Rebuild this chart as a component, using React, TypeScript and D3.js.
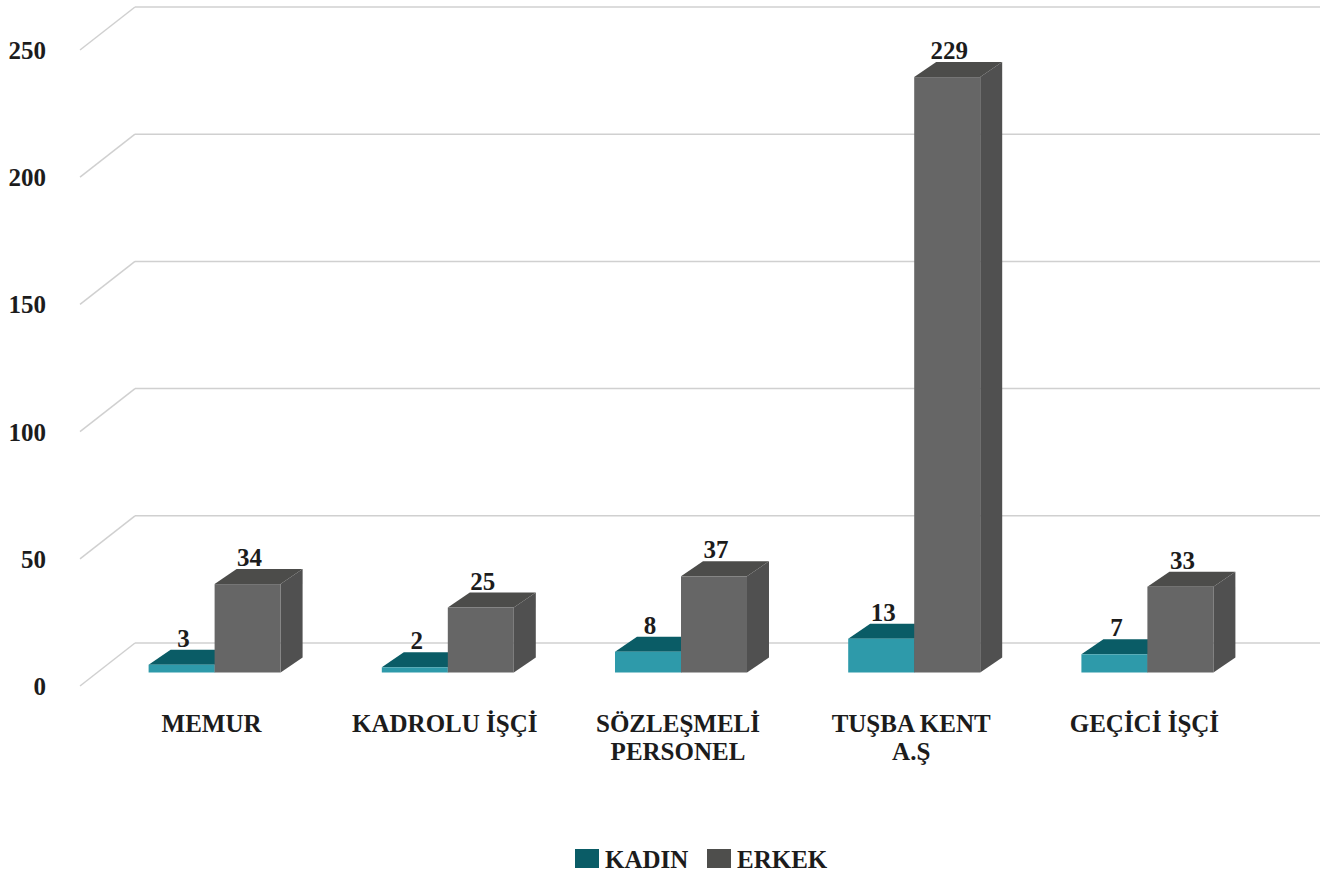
import * as d3 from 'd3';

const categories = ['MEMUR', 'KADROLU İŞÇİ', 'SÖZLEŞMELİ PERSONEL', 'TUŞBA KENT A.Ş', 'GEÇİCİ İŞÇİ'];
const categoryLines = [['MEMUR'], ['KADROLU İŞÇİ'], ['SÖZLEŞMELİ', 'PERSONEL'], ['TUŞBA KENT', 'A.Ş'], ['GEÇİCİ İŞÇİ']];
const seriesNames = ['KADIN', 'ERKEK'];
const kadin = [3, 2, 8, 13, 7];
const erkek = [34, 25, 37, 229, 33];
const yTicks = [0, 50, 100, 150, 200, 250];

const W = 1332;
const H = 876;
const FONT = '"Liberation Serif", "Times New Roman", serif';
const FS = 25;
const TEXT = '#1c1c1c';

// face colours: [front, top, side]
const faces: Record<string, [string, string, string]> = {
  KADIN: ['#2e9aaa', '#0a5c66', '#084a52'],
  ERKEK: ['#666666', '#4c4c4a', '#505050'],
};
const legendColor: Record<string, string> = { KADIN: '#0a5c66', ERKEK: '#4e4e4c' };

export default function App() {
  // back wall value scale and the scale at the bars' front plane
  const yBack = d3.scaleLinear().domain([0, 250]).range([643, 7]);
  const yBar = d3.scaleLinear().domain([0, 250]).range([672.5, 22.5]);
  const x = d3.scaleBand().domain(categories).range([98, 1264]).paddingInner(0.434).paddingOuter(0.217);
  const xs = d3.scaleBand().domain(seriesNames).range([0, x.bandwidth()]);

  const wallLeft = 135;
  const wallRight = 1320;
  const sideDx = -55;
  const sideDy = 43;
  const depthDx = 22;
  const depthDy = -15;

  const values: Record<string, number[]> = { KADIN: kadin, ERKEK: erkek };
  const pts = (arr: number[][]) => arr.map(p => p.join(',')).join(' ');

  const bars: JSX.Element[] = [];
  const labels: JSX.Element[] = [];
  categories.forEach((c, i) => {
    seriesNames.forEach(s => {
      const v = values[s][i];
      const x0 = (x(c) ?? 0) + (xs(s) ?? 0);
      const x1 = x0 + xs.bandwidth();
      const yb = yBar(0);
      const yt = yBar(v);
      const [front, top, side] = faces[s];
      bars.push(
        <g key={`${c}-${s}`}>
          <polygon points={pts([[x1, yb], [x1 + depthDx, yb + depthDy], [x1 + depthDx, yt + depthDy], [x1, yt]])} fill={side} />
          <polygon points={pts([[x0, yt], [x1, yt], [x1 + depthDx, yt + depthDy], [x0 + depthDx, yt + depthDy]])} fill={top} />
          <rect x={x0} y={yt} width={x1 - x0} height={yb - yt} fill={front} />
        </g>
      );
      labels.push(
        <text key={`l-${c}-${s}`} x={(x0 + x1) / 2 + 2} y={yt + depthDy - 3} textAnchor="middle"
          fontFamily={FONT} fontWeight="bold" fontSize={FS} fill={TEXT}>{v}</text>
      );
    });
  });

  return (
    <svg width={W} height={H} style={{ position: 'absolute', left: 0, top: 0, background: '#fff' }}>
      {/* gridlines on back and side walls */}
      {yTicks.map(t => (
        <g key={t}>
          <line x1={wallLeft} x2={wallRight} y1={yBack(t)} y2={yBack(t)} stroke="#d0d0d0" strokeWidth={1.5} />
          <line x1={wallLeft} y1={yBack(t)} x2={wallLeft + sideDx} y2={yBack(t) + sideDy} stroke="#d0d0d0" strokeWidth={1.5} />
          <text x={46} y={yBack(t) + sideDy + 9} textAnchor="end" fontFamily={FONT} fontWeight="bold" fontSize={FS} fill={TEXT}>{t}</text>
        </g>
      ))}

      {bars}
      {labels}

      {/* category labels */}
      {categories.map((c, i) => (
        <text key={c} y={732} textAnchor="middle" fontFamily={FONT} fontWeight="bold" fontSize={FS} fill={TEXT}>
          {categoryLines[i].map((ln, j) => (
            <tspan key={j} x={(x(c) ?? 0) + x.bandwidth() / 2 - 3} dy={j === 0 ? 0 : 28}>{ln}</tspan>
          ))}
        </text>
      ))}

      {/* legend */}
      {seriesNames.map((s, i) => {
        const lx = i === 0 ? 575 : 707;
        return (
          <g key={s}>
            <rect x={lx} y={849} width={24} height={19} fill={legendColor[s]} />
            <text x={lx + 30} y={868} fontFamily={FONT} fontWeight="bold" fontSize={FS} fill={TEXT}>{s}</text>
          </g>
        );
      })}
    </svg>
  );
}
